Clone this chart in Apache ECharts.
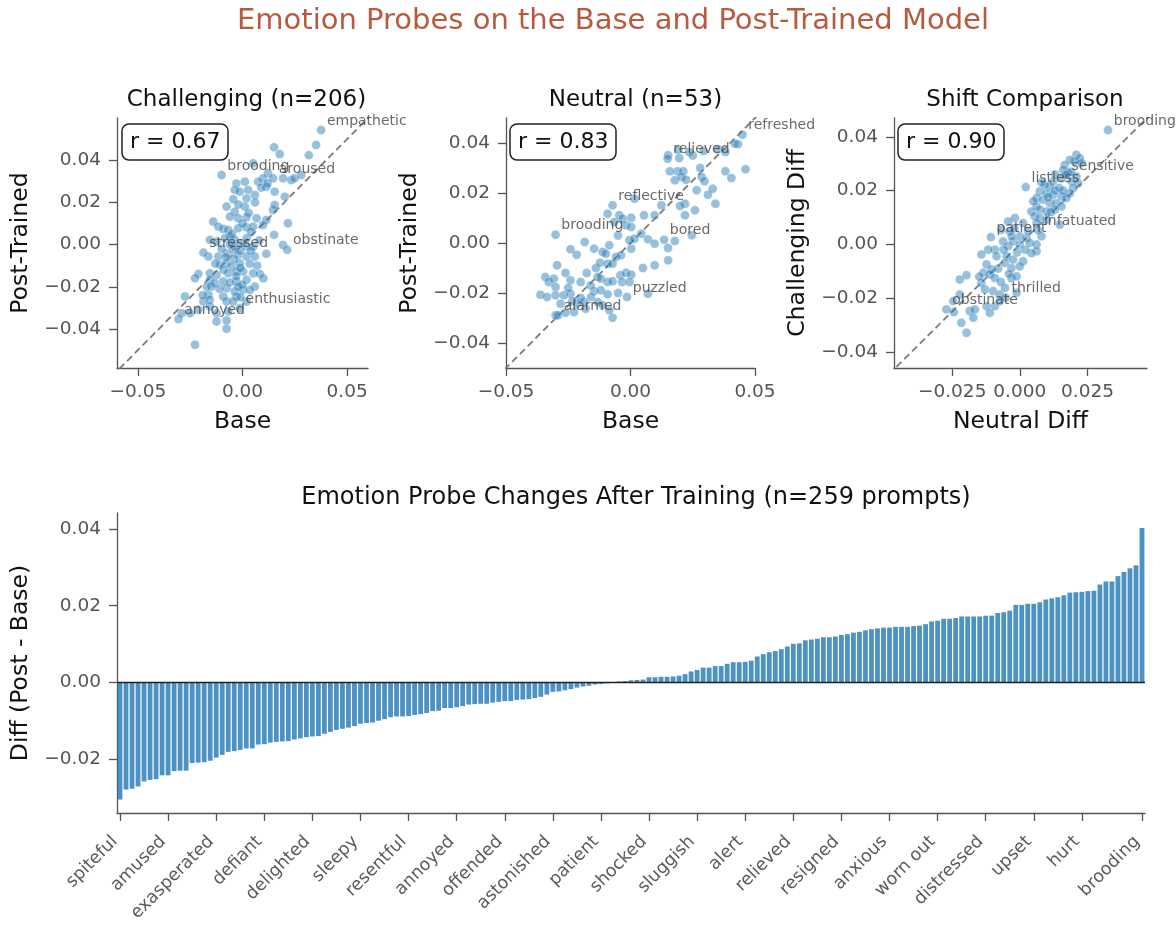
<!DOCTYPE html>
<html><head><meta charset="utf-8">
<script src="https://cdn.jsdelivr.net/npm/echarts@6/dist/echarts.min.js"></script>
<style>html,body{margin:0;padding:0;background:#fff}#c{width:1176px;height:928px}</style>
</head><body><div id="c"></div>
<script>
const FONT = 'DejaVu Sans';

// ---------- Scatter 1: Challenging (Base vs Post-Trained) ----------
const challengingPoints = [[0.0352,0.0472],[0.0317,0.0424],[0.0151,0.0461],[0.0178,0.0429],[0.0051,0.0385],[0.0122,0.0338],[0.0098,0.0314],[0.0075,0.0298],[0.0194,0.0314],[0.0233,0.0306],[0.0249,0.0314],[0.0281,0.0330],[-0.0029,0.0290],[0.0011,0.0298],[-0.0037,0.0259],[-0.0013,0.0251],[0.0027,0.0259],[0.0059,0.0235],[0.0114,0.0274],[0.0154,0.0251],[0.0202,0.0227],[-0.0044,0.0215],[0.0019,0.0219],[-0.0076,0.0180],[0.0011,0.0180],[0.0146,0.0164],[0.0154,0.0188],[-0.0037,0.0156],[-0.0060,0.0132],[-0.0021,0.0125],[0.0019,0.0129],[0.0067,0.0125],[0.0114,0.0117],[0.0217,0.0101],[-0.0140,0.0109],[-0.0116,0.0085],[-0.0092,0.0074],[-0.0068,0.0069],[-0.0021,0.0077],[0.0019,0.0082],[0.0051,0.0085],[0.0098,0.0093],[-0.0156,0.0022],[-0.0124,0.0014],[-0.0084,0.0030],[-0.0060,0.0038],[-0.0037,0.0022],[-0.0005,0.0006],[0.0019,-0.0009],[0.0051,-0.0009],[0.0151,0.0046],[0.0194,-0.0002],[0.0114,-0.0044],[-0.0163,-0.0057],[-0.0116,-0.0057],[-0.0076,-0.0041],[-0.0044,-0.0025],[-0.0021,-0.0049],[0.0019,-0.0057],[0.0059,-0.0057],[-0.0108,-0.0096],[-0.0076,-0.0088],[-0.0052,-0.0104],[-0.0013,-0.0088],[0.0035,-0.0091],[-0.0156,-0.0136],[-0.0124,-0.0144],[-0.0068,-0.0136],[-0.0029,-0.0128],[0.0003,-0.0128],[0.0051,-0.0136],[0.0083,-0.0139],[-0.0211,-0.0139],[-0.0227,-0.0159],[-0.0156,-0.0167],[-0.0132,-0.0183],[-0.0092,-0.0175],[-0.0029,-0.0175],[0.0019,-0.0167],[0.0059,-0.0199],[-0.0148,-0.0199],[-0.0076,-0.0207],[-0.0037,-0.0222],[0.0003,-0.0215],[0.0035,-0.0215],[-0.0275,-0.0246],[-0.0163,-0.0238],[-0.0092,-0.0246],[-0.0029,-0.0246],[0.0019,-0.0270],[-0.0187,-0.0270],[-0.0156,-0.0262],[-0.0076,-0.0270],[-0.0044,-0.0270],[-0.0251,-0.0325],[-0.0290,-0.0325],[-0.0211,-0.0309],[-0.0156,-0.0293],[-0.0124,-0.0325],[-0.0068,-0.0317],[-0.0124,-0.0364],[-0.0076,-0.0360],[-0.0076,-0.0399],[-0.0227,-0.0475],[-0.0040,-0.0010],[-0.0010,-0.0030],[0.0020,0.0030],[-0.0050,0.0050],[0.0000,0.0100],[0.0030,0.0150],[-0.0020,0.0190],[0.0060,0.0200],[0.0090,0.0270],[0.0120,0.0290],[-0.0080,-0.0060],[-0.0040,-0.0070],[-0.0010,-0.0110],[-0.0100,-0.0020],[-0.0060,0.0000],[0.0040,-0.0030],[-0.0030,-0.0150],[-0.0110,-0.0210],[-0.0060,-0.0180],[0.0000,-0.0190],[-0.0090,-0.0120],[-0.0130,-0.0090],[0.0040,0.0060],[0.0080,0.0020],[-0.0020,-0.0200],[0.0070,-0.0100],[-0.0170,-0.0200],[-0.0190,-0.0240],[-0.0010,-0.0250],[0.0100,-0.0160]];
const challengingLabels = [['empathetic',0.0376,0.0543],['brooding',-0.0100,0.0330],['aroused',0.0146,0.0314],['obstinate',0.0214,-0.0025],['stressed',-0.0187,-0.0038],['enthusiastic',-0.0013,-0.0301],['annoyed',-0.0306,-0.0353]];

// ---------- Scatter 2: Neutral (Base vs Post-Trained) ----------
const neutralPoints = [[0.0432,0.0395],[0.0419,0.0397],[0.0462,0.0295],[0.0405,0.0260],[0.0381,0.0287],[0.0351,0.0375],[0.0381,0.0364],[0.0293,0.0368],[0.0236,0.0364],[0.0192,0.0373],[0.0151,0.0351],[0.0196,0.0340],[0.0189,0.0287],[0.0212,0.0287],[0.0158,0.0287],[0.0178,0.0251],[0.0205,0.0264],[0.0223,0.0253],[0.0286,0.0264],[0.0297,0.0247],[0.0266,0.0211],[0.0311,0.0193],[0.0330,0.0217],[0.0341,0.0157],[0.0219,0.0157],[0.0259,0.0131],[0.0219,0.0111],[0.0199,0.0148],[0.0124,0.0151],[0.0097,0.0111],[0.0054,0.0111],[0.0003,0.0101],[0.0016,0.0177],[-0.0092,0.0117],[-0.0045,0.0111],[-0.0031,0.0097],[-0.0065,0.0084],[-0.0018,0.0071],[0.0003,0.0064],[-0.0184,0.0004],[-0.0146,-0.0023],[-0.0112,-0.0036],[-0.0099,-0.0043],[-0.0085,-0.0009],[-0.0058,-0.0056],[-0.0038,-0.0049],[0.0003,-0.0023],[-0.0004,0.0011],[0.0016,0.0017],[0.0043,0.0037],[0.0070,0.0015],[0.0097,-0.0003],[0.0151,-0.0020],[0.0178,0.0008],[0.0246,0.0031],[-0.0241,-0.0025],[-0.0216,-0.0047],[-0.0295,-0.0089],[-0.0261,-0.0120],[-0.0241,-0.0149],[-0.0200,-0.0156],[-0.0176,-0.0120],[-0.0139,-0.0100],[-0.0122,-0.0079],[-0.0092,-0.0083],[-0.0072,-0.0083],[-0.0342,-0.0136],[-0.0328,-0.0156],[-0.0308,-0.0143],[-0.0301,-0.0176],[-0.0362,-0.0207],[-0.0335,-0.0216],[-0.0301,-0.0209],[-0.0268,-0.0209],[-0.0241,-0.0203],[-0.0132,-0.0136],[-0.0119,-0.0143],[-0.0092,-0.0156],[-0.0072,-0.0153],[-0.0041,-0.0129],[-0.0018,-0.0119],[0.0003,-0.0127],[-0.0034,-0.0156],[-0.0004,-0.0156],[-0.0146,-0.0193],[-0.0119,-0.0189],[-0.0092,-0.0205],[-0.0159,-0.0216],[-0.0186,-0.0236],[-0.0214,-0.0243],[-0.0234,-0.0233],[-0.0281,-0.0243],[-0.0301,-0.0289],[-0.0261,-0.0279],[-0.0227,-0.0276],[-0.0180,-0.0263],[-0.0132,-0.0236],[-0.0112,-0.0249],[0.0070,-0.0203],[0.0097,-0.0089],[0.0151,-0.0069],[-0.0072,-0.0299],[-0.0085,-0.0269],[-0.0250,-0.0180],[-0.0200,-0.0220],[-0.0160,-0.0170],[0.0280,0.0300],[0.0250,0.0350],[-0.0050,0.0030],[0.0050,-0.0100],[-0.0050,-0.0200]];
const neutralLabels = [['refreshed',0.0450,0.0433],['relieved',0.0149,0.0337],['reflective',-0.0072,0.0151],['brooding',-0.0301,0.0033],['bored',0.0135,0.0013],['puzzled',-0.0014,-0.0216],['alarmed',-0.0291,-0.0289]];

// ---------- Scatter 3: Shift comparison (Neutral Diff vs Challenging Diff) ----------
const shiftPoints = [[0.0209,0.0333],[0.0222,0.0320],[0.0203,0.0308],[0.0228,0.0302],[0.0185,0.0314],[0.0166,0.0295],[0.0160,0.0277],[0.0179,0.0265],[0.0209,0.0252],[0.0191,0.0234],[0.0216,0.0227],[0.0197,0.0209],[0.0185,0.0190],[0.0154,0.0246],[0.0123,0.0234],[0.0111,0.0215],[0.0092,0.0221],[0.0074,0.0197],[0.0099,0.0190],[0.0123,0.0184],[0.0154,0.0178],[0.0172,0.0172],[0.0062,0.0172],[0.0086,0.0166],[0.0111,0.0153],[0.0135,0.0153],[0.0154,0.0141],[0.0062,0.0141],[0.0074,0.0129],[0.0099,0.0122],[0.0129,0.0129],[0.0148,0.0073],[0.0043,0.0122],[0.0055,0.0104],[0.0074,0.0098],[0.0099,0.0091],[0.0062,0.0079],[0.0012,0.0079],[-0.0018,0.0098],[-0.0043,0.0085],[-0.0068,0.0054],[-0.0037,0.0048],[0.0000,0.0030],[0.0025,0.0023],[0.0037,0.0005],[0.0062,-0.0001],[0.0062,-0.0026],[0.0043,-0.0032],[-0.0062,0.0011],[-0.0043,-0.0007],[-0.0025,0.0011],[0.0000,-0.0001],[-0.0092,-0.0020],[-0.0117,-0.0020],[-0.0142,-0.0038],[-0.0086,-0.0044],[-0.0049,-0.0044],[-0.0025,-0.0057],[0.0012,-0.0063],[-0.0055,-0.0069],[-0.0031,-0.0088],[0.0000,-0.0082],[-0.0123,-0.0075],[-0.0105,-0.0094],[-0.0135,-0.0106],[-0.0111,-0.0112],[-0.0092,-0.0125],[-0.0031,-0.0125],[-0.0012,-0.0119],[-0.0222,-0.0131],[-0.0197,-0.0115],[-0.0142,-0.0143],[-0.0129,-0.0168],[-0.0099,-0.0174],[-0.0074,-0.0187],[-0.0055,-0.0162],[-0.0012,-0.0180],[-0.0222,-0.0187],[-0.0246,-0.0211],[-0.0244,-0.0252],[-0.0185,-0.0248],[-0.0166,-0.0242],[-0.0123,-0.0230],[-0.0111,-0.0255],[-0.0092,-0.0230],[-0.0074,-0.0211],[-0.0216,-0.0292],[-0.0172,-0.0273],[-0.0197,-0.0329],[0.0105,0.0175],[0.0130,0.0200],[0.0080,0.0230],[0.0145,0.0210],[0.0115,0.0120],[0.0050,0.0160],[-0.0030,0.0030],[-0.0010,-0.0030],[0.0020,-0.0020],[-0.0060,-0.0020],[-0.0080,-0.0090],[-0.0040,-0.0110],[-0.0070,-0.0140],[-0.0150,-0.0120],[0.0030,0.0050],[0.0080,0.0030],[-0.0020,0.0060],[0.0160,0.0200],[0.0190,0.0270],[0.0130,0.0260]];
const shiftLabels = [['brooding',0.0326,0.0425],['sensitive',0.0170,0.0258],['listless',0.0022,0.0213],['infatuated',0.0068,0.0052],['patient',-0.0107,0.0027],['thrilled',-0.0052,-0.0199],['obstinate',-0.0271,-0.0242]];

// ---------- Bar chart: sorted diffs (171 emotions) ----------
const barValues = [-0.0304,-0.0278,-0.0276,-0.0270,-0.0257,-0.0253,-0.0251,-0.0241,-0.0241,-0.0230,-0.0229,-0.0229,-0.0209,-0.0208,-0.0207,-0.0203,-0.0195,-0.0188,-0.0180,-0.0178,-0.0175,-0.0171,-0.0171,-0.0161,-0.0160,-0.0156,-0.0154,-0.0153,-0.0152,-0.0148,-0.0145,-0.0142,-0.0140,-0.0139,-0.0133,-0.0128,-0.0123,-0.0120,-0.0117,-0.0113,-0.0107,-0.0105,-0.0104,-0.0099,-0.0095,-0.0090,-0.0088,-0.0088,-0.0087,-0.0084,-0.0082,-0.0079,-0.0074,-0.0073,-0.0066,-0.0066,-0.0064,-0.0061,-0.0057,-0.0056,-0.0055,-0.0055,-0.0052,-0.0050,-0.0048,-0.0048,-0.0045,-0.0044,-0.0043,-0.0040,-0.0037,-0.0031,-0.0024,-0.0023,-0.0020,-0.0017,-0.0013,-0.0010,-0.0008,-0.0005,-0.0004,-0.0002,0.0001,0.0003,0.0004,0.0006,0.0007,0.0008,0.0014,0.0014,0.0015,0.0015,0.0016,0.0018,0.0022,0.0029,0.0033,0.0039,0.0039,0.0043,0.0043,0.0049,0.0053,0.0053,0.0054,0.0057,0.0068,0.0074,0.0079,0.0082,0.0087,0.0094,0.0101,0.0102,0.0110,0.0112,0.0114,0.0118,0.0118,0.0120,0.0124,0.0126,0.0130,0.0132,0.0136,0.0139,0.0141,0.0143,0.0143,0.0145,0.0145,0.0145,0.0147,0.0148,0.0152,0.0159,0.0161,0.0166,0.0166,0.0168,0.0172,0.0172,0.0172,0.0172,0.0174,0.0174,0.0181,0.0183,0.0187,0.0202,0.0202,0.0205,0.0205,0.0209,0.0216,0.0219,0.0222,0.0227,0.0234,0.0235,0.0236,0.0238,0.0239,0.0255,0.0263,0.0263,0.0277,0.0288,0.0297,0.0305,0.0402];
const barTickIndex = [0,8,16,24,32,40,48,56,64,72,80,88,96,104,112,120,128,136,144,152,160,170];
const barTickNames = ['spiteful','amused','exasperated','defiant','delighted','sleepy','resentful','annoyed','offended','astonished','patient','shocked','sluggish','alert','relieved','resigned','anxious','worn out','distressed','upset','hurt','brooding'];
const barCategories = barValues.map((v, i) => String(i));

const titles = ['Challenging (n=206)', 'Neutral (n=53)', 'Shift Comparison'];
const rValues = ['r = 0.67', 'r = 0.83', 'r = 0.90'];

// ---------- helpers ----------
const fmt = d => v => (v < -1e-12 ? '\u2212' : '') + Math.abs(v).toFixed(d);
const AX = '#555';
function axis(gi, opt) {
  return {
    gridIndex: gi, type: 'value',
    axisLine: { show: true, onZero: false, lineStyle: { color: AX, width: 1.3 } },
    axisTick: { show: true, inside: false, length: 8, lineStyle: { color: AX, width: 1.3 }, customValues: opt.ticks },
    axisLabel: { color: '#555', fontSize: 18.5, fontFamily: FONT, margin: opt.lm, customValues: opt.ticks, formatter: fmt(opt.dec) },
    splitLine: { show: false },
    min: opt.min, max: opt.max,
    name: opt.name, nameLocation: 'middle', nameGap: opt.gap,
    nameTextStyle: { color: '#111', fontSize: 23.5, fontFamily: FONT }
  };
}
const grids = [
  { left: 117, top: 118, width: 251, height: 250 },
  { left: 506, top: 118, width: 249, height: 250 },
  { left: 894, top: 118, width: 253, height: 250 },
  { left: 117, top: 513, width: 1028, height: 300 }
];
const xAxes = [
  axis(0, { min: -0.06, max: 0.06, ticks: [-0.05, 0, 0.05], dec: 2, name: 'Base', gap: 42, lm: 15 }),
  axis(1, { min: -0.05, max: 0.05, ticks: [-0.05, 0, 0.05], dec: 2, name: 'Base', gap: 42, lm: 15 }),
  axis(2, { min: -0.0465, max: 0.047, ticks: [-0.025, 0, 0.025], dec: 3, name: 'Neutral Diff', gap: 42, lm: 15 })
];
const yAxes = [
  axis(0, { min: -0.0585, max: 0.06, ticks: [-0.04, -0.02, 0, 0.02, 0.04], dec: 2, name: 'Post-Trained', gap: 84, lm: 16 }),
  axis(1, { min: -0.05, max: 0.05, ticks: [-0.04, -0.02, 0, 0.02, 0.04], dec: 2, name: 'Post-Trained', gap: 84, lm: 16 }),
  axis(2, { min: -0.046, max: 0.047, ticks: [-0.04, -0.02, 0, 0.02, 0.04], dec: 2, name: 'Challenging Diff', gap: 84, lm: 16 }),
  axis(3, { min: -0.0339, max: 0.0441, ticks: [-0.02, 0, 0.02, 0.04], dec: 2, name: 'Diff (Post - Base)', gap: 84, lm: 16 })
];
const tickSet = new Set(barTickIndex);
const nameAt = {}; barTickIndex.forEach((k, j) => nameAt[k] = barTickNames[j]);
xAxes.push({
  gridIndex: 3, type: 'category', data: barCategories, boundaryGap: true,
  axisLine: { show: true, onZero: false, lineStyle: { color: AX, width: 1.3 } },
  axisTick: { show: true, alignWithLabel: true, length: 8, interval: (i) => tickSet.has(i), lineStyle: { color: AX, width: 1.3 } },
  axisLabel: { interval: (i) => tickSet.has(i), rotate: 45, color: '#5a5a5a', fontSize: 17.5, fontFamily: FONT, margin: 21,
    padding: [0, 7, 0, 0], formatter: (v, i) => nameAt[i] || '' },
  splitLine: { show: false }
});

const dotStyle = { color: 'rgba(31,119,180,0.58)', borderColor: 'rgba(255,255,255,0.7)', borderWidth: 0.5 };
const series = [];
const sets = [[challengingPoints, challengingLabels, 0.07], [neutralPoints, neutralLabels, 0.06], [shiftPoints, shiftLabels, 0.06]];
sets.forEach(([pts, labs, L], k) => {
  series.push({ type: 'line', xAxisIndex: k, yAxisIndex: k, data: [[-L, -L], [L, L]], symbol: 'none', silent: true, clip: true,
    lineStyle: { color: '#7a7a7a', width: 1.8, type: [7, 4] }, z: 1 });
  series.push({ type: 'scatter', xAxisIndex: k, yAxisIndex: k, data: pts, symbolSize: 9, itemStyle: dotStyle, z: 2 });
  series.push({ type: 'scatter', xAxisIndex: k, yAxisIndex: k, symbolSize: 9, itemStyle: dotStyle, z: 3,
    data: labs.map(d => ({ name: d[0], value: [d[1], d[2]] })),
    label: { show: true, formatter: p => p.name, position: 'right', distance: 1, offset: [0, -9],
      color: '#444', fontSize: 14, fontFamily: FONT } });
});
series.push({
  type: 'bar', xAxisIndex: 3, yAxisIndex: 3, data: barValues, barCategoryGap: '20%',
  itemStyle: { color: 'rgba(31,119,180,0.8)' },
  markLine: { silent: true, symbol: 'none', label: { show: false }, lineStyle: { color: '#222', width: 1.3, type: 'solid' },
    data: [{ yAxis: 0 }] }
});

const titleList = [
  { text: 'Emotion Probes on the Base and Post-Trained Model', left: 608, top: 2, textAlign: 'center',
    textStyle: { color: '#B85A3E', fontSize: 29, fontWeight: 'normal', fontFamily: FONT } },
  { text: 'Emotion Probe Changes After Training (n=259 prompts)', left: 631, top: 481, textAlign: 'center',
    textStyle: { color: '#111', fontSize: 24, fontWeight: 'normal', fontFamily: FONT } }
];
const centers = [241.5, 630.5, 1020];
titles.forEach((t, k) => titleList.push({ text: t, left: centers[k], top: 84, textAlign: 'center',
  textStyle: { color: '#111', fontSize: 23, fontWeight: 'normal', fontFamily: FONT } }));
const rLeft = [122, 510, 898];
rValues.forEach((t, k) => titleList.push({ text: t, left: rLeft[k], top: 124, padding: [7, 8],
  borderColor: '#222', borderWidth: 1.5, borderRadius: 7, backgroundColor: '#fff',
  textStyle: { color: '#111', fontSize: 22, fontWeight: 'normal', fontFamily: FONT } }));

const chart = echarts.init(document.getElementById('c'), null, { renderer: 'canvas' });
chart.setOption({
  animation: false, backgroundColor: '#fff',
  title: titleList, grid: grids, xAxis: xAxes, yAxis: yAxes, series: series
});
</script></body></html>
